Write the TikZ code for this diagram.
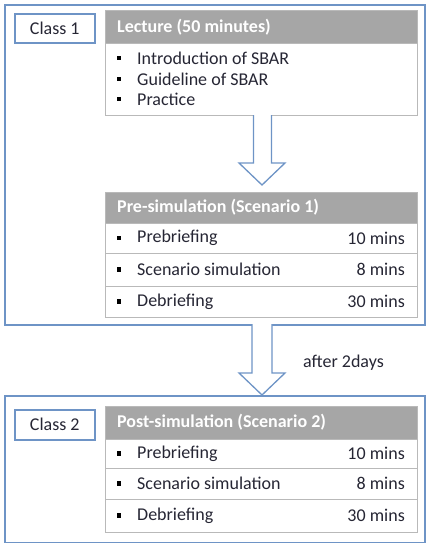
\documentclass[tikz,border=0pt]{standalone}
\usepackage{fontspec}
\setmainfont{Carlito}
\usetikzlibrary{calc}
\definecolor{bord}{RGB}{110,148,198}
\definecolor{hdr}{RGB}{166,166,166}
\definecolor{rowb}{RGB}{185,185,185}
\definecolor{txt}{RGB}{38,38,52}
\tikzset{
  outerbox/.style={draw=bord,line width=1.6pt,anchor=north west,inner sep=0pt},
  classbox/.style={draw=bord,line width=1.6pt,anchor=north west,inner sep=0pt,font=\fontsize{18}{20}\selectfont,text=txt},
  hdrbox/.style={draw=rowb,fill=hdr,line width=0.8pt,anchor=north west,inner sep=0pt,minimum width=312pt},
  rowbox/.style={draw=rowb,fill=white,line width=0.8pt,anchor=north west,inner sep=0pt,minimum width=312pt},
  hdrtext/.style={anchor=west,text=white,font=\fontsize{18}{20}\selectfont\bfseries,inner sep=0pt},
  itemtext/.style={anchor=west,text=txt,font=\fontsize{18}{20}\selectfont,inner sep=0pt},
  timetext/.style={anchor=east,text=txt,font=\fontsize{18}{20}\selectfont,inner sep=0pt},
  bul/.style={fill=black,minimum size=4.5pt,inner sep=0pt},
  blockarrow/.style={draw=bord,line width=1.3pt,fill=white,line join=miter}
}
\begin{document}
\begin{tikzpicture}[x=1pt,y=-1pt]
\useasboundingbox (0,0) rectangle (433,543);
% Class 1 group
\node[outerbox,minimum width=420pt,minimum height=320pt] (outer1) at (4,4) {};
\node[classbox,minimum width=80pt,minimum height=29pt] (class1) at (14,13) {Class 1};
\node[hdrbox,minimum height=33pt] (lechdr) at (105,10) {};
\node[hdrtext] (lect) at (117,27) {Lecture (50 minutes)};
\node[rowbox,minimum height=72pt] (lecbody) at (105,43) {};
\node[bul] (b1) at (119,58) {};
\node[itemtext] (i1) at (137,58) {Introduction of SBAR};
\node[bul] (b2) at (119,79) {};
\node[itemtext] (i2) at (137,79) {Guideline of SBAR};
\node[bul] (b3) at (119,99) {};
\node[itemtext] (i3) at (137,99) {Practice};
% Pre-simulation
\node[hdrbox,minimum height=31pt] (prehdr) at (105,192) {};
\node[hdrtext] (pret) at (117,207.5) {Pre-simulation (Scenario 1)};
\node[rowbox,minimum height=30pt] (pr1) at (105,223) {};
\node[rowbox,minimum height=33pt] (pr2) at (105,253) {};
\node[rowbox,minimum height=31pt] (pr3) at (105,286) {};
\node[bul] (pb1) at (119,238) {};
\node[itemtext] (pi1) at (137,238) {Prebriefing};
\node[timetext] (pt1) at (405,238) {10 mins};
\node[bul] (pb2) at (119,269.5) {};
\node[itemtext] (pi2) at (137,269.5) {Scenario simulation};
\node[timetext] (pt2) at (405,269.5) {8 mins};
\node[bul] (pb3) at (119,301.5) {};
\node[itemtext] (pi3) at (137,301.5) {Debriefing};
\node[timetext] (pt3) at (405,301.5) {30 mins};
% Class 2 group
\node[outerbox,minimum width=420pt,minimum height=147pt] (outer2) at (4,395) {};
\node[classbox,minimum width=80pt,minimum height=30pt] (class2) at (14,409) {Class 2};
\node[hdrbox,minimum height=33pt] (posthdr) at (105,406) {};
\node[hdrtext] (postt) at (117,422.5) {Post-simulation (Scenario 2)};
\node[rowbox,minimum height=29pt] (po1) at (105,439) {};
\node[rowbox,minimum height=31pt] (po2) at (105,468) {};
\node[rowbox,minimum height=33pt] (po3) at (105,499) {};
\node[bul] (qb1) at (119,453.5) {};
\node[itemtext] (qi1) at (137,453.5) {Prebriefing};
\node[timetext] (qt1) at (405,453.5) {10 mins};
\node[bul] (qb2) at (119,483.5) {};
\node[itemtext] (qi2) at (137,483.5) {Scenario simulation};
\node[timetext] (qt2) at (405,483.5) {8 mins};
\node[bul] (qb3) at (119,515.5) {};
\node[itemtext] (qi3) at (137,515.5) {Debriefing};
\node[timetext] (qt3) at (405,515.5) {30 mins};
% block arrows
\coordinate (a1top) at (262,115);
\coordinate (a1tip) at (262,185);
\draw[blockarrow] ($(a1top)+(-8.5,0)$) -- (253.5,163) -- (239,163) -- (a1tip) -- (285,163) -- (271.5,163) -- ($(a1top)+(9.5,0)$);
\coordinate (a2top) at (262,324);
\coordinate (a2tip) at (262,395);
\draw[blockarrow] ($(a2top)+(-10,0)$) -- (252,373) -- (239,373) -- (a2tip) -- (285,373) -- (272,373) -- ($(a2top)+(10,0)$);
\node[itemtext] (after) at (303,363) {after 2days};
\end{tikzpicture}
\end{document}
